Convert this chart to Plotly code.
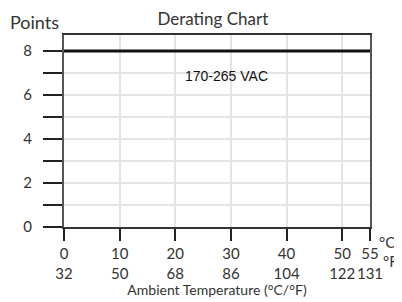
import plotly.graph_objects as go

# Data
temp_c = [0, 55]
points = [8, 8]
series_label = "170-265 VAC"

x_tick_c = [0, 10, 20, 30, 40, 50, 55]
x_tick_f = [32, 50, 68, 86, 104, 122, 131]
y_ticks = [0, 1, 2, 3, 4, 5, 6, 7, 8]
y_labels = ["0", "", "2", "", "4", "", "6", "", "8"]

FONT = "Lato"

fig = go.Figure()
fig.add_trace(go.Scatter(x=temp_c, y=points, mode="lines",
                         line=dict(color="#111111", width=3),
                         showlegend=False, hoverinfo="skip"))

# page body has an 8px default margin, so the figure is 394x294
fig.update_layout(
    width=394, height=294,
    margin=dict(l=56, r=32, t=27, b=75, autoexpand=False),
    paper_bgcolor="white", plot_bgcolor="white",
    font=dict(family=FONT, size=15, color="#333333"),
    title=dict(text="Derating Chart", x=0.52, xanchor="center", y=0.962, yanchor="middle",
               font=dict(family=FONT, size=17, color="#333333")),
    showlegend=False,
)

fig.update_xaxes(
    range=[0, 55],
    tickvals=x_tick_c,
    ticktext=[f"{c}<br>{f}" for c, f in zip(x_tick_c, x_tick_f)],
    tickangle=0,
    ticks="outside", ticklen=12, tickwidth=1.5, tickcolor="#222222",
    showgrid=True, gridcolor="#e4e4e4", gridwidth=1.5,
    showline=True, linecolor="#333333", linewidth=2, mirror=True,
    zeroline=False, automargin=False,
    tickfont=dict(family=FONT, size=15, color="#333333"),
    title=dict(text="Ambient Temperature (°C/°F)", standoff=2,
               font=dict(family=FONT, size=14, color="#333333")),
)

fig.update_yaxes(
    range=[0, 8.73],
    tickvals=y_ticks, ticktext=y_labels,
    ticks="outside", ticklen=19, tickwidth=1.5, tickcolor="#222222",
    ticklabelstandoff=8,
    showgrid=True, gridcolor="#e4e4e4", gridwidth=1.5,
    showline=True, linecolor="#555555", linewidth=2, mirror=True,
    zeroline=False, automargin=False,
    tickfont=dict(family=FONT, size=15, color="#333333"),
)

fig.add_annotation(x=29.2, y=6.85, text=series_label, showarrow=False,
                   font=dict(family="Liberation Sans", size=14, color="#111111"))
fig.add_annotation(xref="paper", yref="paper", x=-0.183, y=1.0, text="Points",
                   showarrow=False, xanchor="left", yanchor="bottom",
                   font=dict(family=FONT, size=18, color="#333333"))
fig.add_annotation(x=55, yref="paper", y=-0.135, text="°C", showarrow=False,
                   xanchor="left", xshift=7, font=dict(family=FONT, size=15, color="#333333"))
fig.add_annotation(x=55, yref="paper", y=-0.235, text="°F", showarrow=False,
                   xanchor="left", xshift=11, font=dict(family=FONT, size=15, color="#333333"))

fig.write_html("out.html")
